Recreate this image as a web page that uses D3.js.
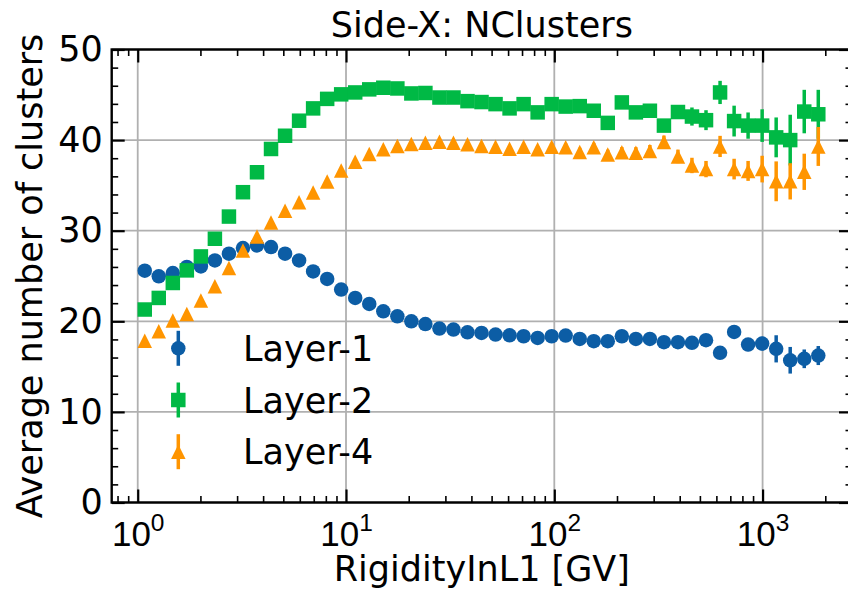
<!DOCTYPE html>
<html>
<head>
<meta charset="utf-8">
<script src="https://cdn.jsdelivr.net/npm/d3@7"></script>
<style>
  html, body { margin: 0; padding: 0; background: #ffffff; }
  svg { display: block; font-family: "DejaVu Sans", sans-serif; }
</style>
</head>
<body>
<svg id="chart" width="848" height="591"></svg>
<script>
// Bin centres of rigidity (GV)
const rigidity = [1.081, 1.262, 1.474, 1.721, 2.010, 2.347, 2.741, 3.201, 3.738, 4.365,
  5.098, 5.953, 6.952, 8.12, 9.48, 11.07, 12.93, 15.10, 17.64, 20.59,
  24.05, 28.09, 32.80, 38.30, 44.73, 52.23, 61.0, 71.23, 83.18, 97.13,
  113.4, 132.5, 154.7, 180.6, 211, 246.4, 287.7, 336, 392.4, 458,
  535, 625, 730, 852, 995, 1162, 1357, 1585, 1851];

// Average number of clusters per layer
const layer1 = [25.58, 24.96, 25.33, 26.0, 26.06, 26.72, 27.46, 28.08, 28.37, 28.19,
  27.46, 26.72, 25.51, 24.67, 23.5, 22.58, 21.91, 21.1, 20.55, 20.0,
  19.7, 19.2, 19.09, 18.79, 18.72, 18.53, 18.46, 18.35, 18.17, 18.35,
  18.43, 18.06, 17.8, 17.8, 18.35, 18.06, 18.06, 17.69, 17.69, 17.62,
  17.91, 16.52, 18.83, 17.43, 17.54, 16.96, 15.7, 15.86, 16.22];
const layer1Err = [0.04, 0.04, 0.04, 0.04, 0.04, 0.04, 0.05, 0.05, 0.05, 0.05,
  0.06, 0.06, 0.06, 0.07, 0.07, 0.08, 0.08, 0.09, 0.1, 0.11,
  0.12, 0.13, 0.14, 0.15, 0.16, 0.18, 0.2, 0.21, 0.23, 0.25,
  0.27, 0.3, 0.32, 0.35, 0.38, 0.4, 0.44, 0.48, 0.52, 0.56,
  0.6, 0.66, 0.7, 0.72, 0.75, 1.5, 1.47, 1.03, 1.05];

const layer2 = [21.3, 22.58, 24.23, 25.62, 27.16, 29.11, 31.56, 34.25, 36.45, 39.02,
  40.48, 42.14, 43.5, 44.55, 45.05, 45.26, 45.6, 45.78, 45.7, 45.15,
  45.2, 44.7, 44.7, 44.3, 44.2, 43.97, 43.5, 43.97, 43.06, 43.97,
  43.7, 43.75, 43.24, 41.9, 44.16, 43.06, 43.24, 41.6, 43.1, 42.6,
  42.2, 45.26, 42.1, 41.6, 41.6, 40.3, 40.0, 43.15, 42.85];
const layer2Err = [0.08, 0.08, 0.08, 0.08, 0.08, 0.09, 0.09, 0.1, 0.1, 0.1,
  0.11, 0.11, 0.12, 0.12, 0.13, 0.14, 0.15, 0.16, 0.17, 0.18,
  0.2, 0.21, 0.23, 0.25, 0.27, 0.29, 0.31, 0.34, 0.37, 0.4,
  0.43, 0.46, 0.5, 0.54, 0.58, 0.62, 0.66, 0.7, 0.75, 1.0,
  1.1, 1.28, 1.7, 1.45, 1.8, 2.2, 2.8, 2.4, 2.7];

const layer4 = [17.84, 18.9, 20.1, 20.8, 22.3, 23.86, 25.88, 27.82, 29.36, 30.9,
  32.19, 33.15, 34.21, 35.42, 36.65, 37.6, 38.47, 38.98, 39.35, 39.57,
  39.7, 39.83, 39.7, 39.53, 39.35, 39.27, 39.05, 39.27, 38.98, 39.27,
  39.2, 38.7, 39.2, 38.4, 38.65, 38.6, 38.8, 39.8, 38.2, 37.2,
  36.8, 39.3, 36.8, 36.6, 36.8, 35.45, 35.45, 36.5, 39.3];
const layer4Err = [0.08, 0.08, 0.08, 0.08, 0.08, 0.09, 0.09, 0.1, 0.1, 0.1,
  0.11, 0.11, 0.12, 0.12, 0.13, 0.14, 0.15, 0.16, 0.17, 0.18,
  0.2, 0.21, 0.23, 0.25, 0.27, 0.29, 0.31, 0.34, 0.37, 0.4,
  0.43, 0.46, 0.5, 0.54, 0.58, 0.62, 0.66, 0.7, 0.75, 0.85,
  0.9, 1.17, 1.14, 1.1, 1.47, 2.2, 2.0, 2.0, 2.15];

const seriesNames = ["Layer-1", "Layer-2", "Layer-4"];
const seriesColors = ["#0C5DA5", "#00B945", "#FF9500"];
const seriesShapes = ["circle", "square", "triangle"];

const xMajorTicks = [1, 10, 100, 1000];
const yMajorTicks = [0, 10, 20, 30, 40, 50];

const titleText = "Side-X: NClusters";
const xLabel = "RigidityInL1 [GV]";
const yLabel = "Average number of clusters";

// ---- layout ----
const plotL = 111.7, plotR = 852, plotT = 49.5, plotB = 502.5;
const FONT = 35, TICKFONT = 35;

const svg = d3.select("#chart");

const x = d3.scaleLog().domain([0.75, 2687]).range([plotL, plotR]);
const y = d3.scaleLinear().domain([0, 50]).range([plotB, plotT]);

// minor tick positions
const xMinor = [];
[0.1, 1, 10, 100, 1000].forEach(dec => {
  for (let m = 2; m <= 9; m++) {
    const v = m * dec;
    if (v >= 0.75 && v <= 2687) xMinor.push(v);
  }
});
const yMinor = d3.range(0, 51, 2).filter(v => v % 10 !== 0);

// ---- grid ----
const grid = svg.append("g").attr("stroke", "#b0b0b0").attr("stroke-width", 1.8);
xMajorTicks.forEach(v => {
  grid.append("line").attr("x1", x(v)).attr("x2", x(v)).attr("y1", plotT).attr("y2", plotB);
});
yMajorTicks.forEach(v => {
  grid.append("line").attr("x1", plotL).attr("x2", plotR).attr("y1", y(v)).attr("y2", y(v));
});

// ---- markers ----
const MS = 14.5;
function markerPath(shape) {
  const h = MS / 2;
  if (shape === "square") return `M${-h},${-h}H${h}V${h}H${-h}Z`;
  if (shape === "triangle") return `M0,${-h}L${h},${h}L${-h},${h}Z`;
  return d3.symbol(d3.symbolCircle, Math.PI * h * h)();
}

const allSeries = [
  { vals: layer1, errs: layer1Err },
  { vals: layer2, errs: layer2Err },
  { vals: layer4, errs: layer4Err }
];

allSeries.forEach((s, si) => {
  const g = svg.append("g");
  const color = seriesColors[si];
  const pts = rigidity.map((r, i) => ({ r, v: s.vals[i], e: s.errs[i] }));
  g.selectAll("line.err").data(pts).enter().append("line")
    .attr("class", "err")
    .attr("x1", d => x(d.r)).attr("x2", d => x(d.r))
    .attr("y1", d => y(d.v - d.e)).attr("y2", d => y(d.v + d.e))
    .attr("stroke", color).attr("stroke-width", 3.5);
  g.selectAll("path.mk").data(pts).enter().append("path")
    .attr("class", "mk")
    .attr("d", markerPath(seriesShapes[si]))
    .attr("transform", d => `translate(${x(d.r)},${y(d.v)})`)
    .attr("fill", color);
});

// ---- axes (ticks point inward on all four sides) ----
function styleAxis(g, width) {
  g.select(".domain").remove();
  g.selectAll(".tick line").attr("stroke", "#000").attr("stroke-width", width);
}

const axB = svg.append("g").attr("transform", `translate(0,${plotB})`)
  .call(d3.axisBottom(x).tickValues(xMajorTicks).tickSize(-13).tickPadding(10).tickFormat(() => ""));
styleAxis(axB, 2.2);
axB.selectAll(".tick text").remove();
axB.selectAll(".tick").append("text")
  .attr("fill", "#000")
  .attr("text-anchor", "middle")
  .attr("y", 43)
  .attr("font-size", TICKFONT)
  .each(function (d) {
    const t = d3.select(this);
    t.append("tspan").text("10");
    t.append("tspan").attr("dy", -15).attr("font-size", TICKFONT * 0.7).text(Math.round(Math.log10(d)));
  });
styleAxis(svg.append("g").attr("transform", `translate(0,${plotB})`)
  .call(d3.axisBottom(x).tickValues(xMinor).tickSize(-6.5).tickFormat(() => "")), 1.6);
styleAxis(svg.append("g").attr("transform", `translate(0,${plotT})`)
  .call(d3.axisTop(x).tickValues(xMajorTicks).tickSize(-13).tickFormat(() => "")), 2.2);
styleAxis(svg.append("g").attr("transform", `translate(0,${plotT})`)
  .call(d3.axisTop(x).tickValues(xMinor).tickSize(-6.5).tickFormat(() => "")), 1.6);

const axL = svg.append("g").attr("transform", `translate(${plotL},0)`)
  .call(d3.axisLeft(y).tickValues(yMajorTicks).tickSize(-13).tickPadding(9).tickFormat(d3.format("d")));
styleAxis(axL, 2.2);
axL.selectAll(".tick text").attr("font-size", TICKFONT).attr("fill", "#000")
  .attr("font-family", "DejaVu Sans");
styleAxis(svg.append("g").attr("transform", `translate(${plotL},0)`)
  .call(d3.axisLeft(y).tickValues(yMinor).tickSize(-6.5).tickFormat(() => "")), 1.6);
styleAxis(svg.append("g").attr("transform", `translate(${plotR},0)`)
  .call(d3.axisRight(y).tickValues(yMajorTicks).tickSize(-13).tickFormat(() => "")), 2.2);
styleAxis(svg.append("g").attr("transform", `translate(${plotR},0)`)
  .call(d3.axisRight(y).tickValues(yMinor).tickSize(-6.5).tickFormat(() => "")), 1.6);

// frame
svg.append("rect")
  .attr("x", plotL).attr("y", plotT)
  .attr("width", plotR - plotL).attr("height", plotB - plotT)
  .attr("fill", "none").attr("stroke", "#000").attr("stroke-width", 2.4);

// ---- legend ----
const legend = svg.append("g");
seriesNames.forEach((name, i) => {
  const ly = 348.3 + i * 51.7;
  const lx = 178.3;
  legend.append("line")
    .attr("x1", lx).attr("x2", lx).attr("y1", ly - 17.5).attr("y2", ly + 17.5)
    .attr("stroke", seriesColors[i]).attr("stroke-width", 3.5);
  legend.append("path")
    .attr("d", markerPath(seriesShapes[i]))
    .attr("transform", `translate(${lx},${ly})`)
    .attr("fill", seriesColors[i]);
  legend.append("text")
    .attr("x", 243).attr("y", ly + 0.365 * FONT)
    .attr("font-size", FONT).attr("fill", "#000")
    .text(name);
});

// ---- titles ----
svg.append("text")
  .attr("x", (plotL + plotR) / 2).attr("y", 37)
  .attr("text-anchor", "middle").attr("font-size", FONT)
  .text(titleText);
svg.append("text")
  .attr("x", (plotL + plotR) / 2).attr("y", 581)
  .attr("text-anchor", "middle").attr("font-size", FONT)
  .text(xLabel);
svg.append("text")
  .attr("transform", `translate(42,${(plotT + plotB) / 2}) rotate(-90)`)
  .attr("text-anchor", "middle").attr("font-size", FONT)
  .text(yLabel);
</script>
</body>
</html>
